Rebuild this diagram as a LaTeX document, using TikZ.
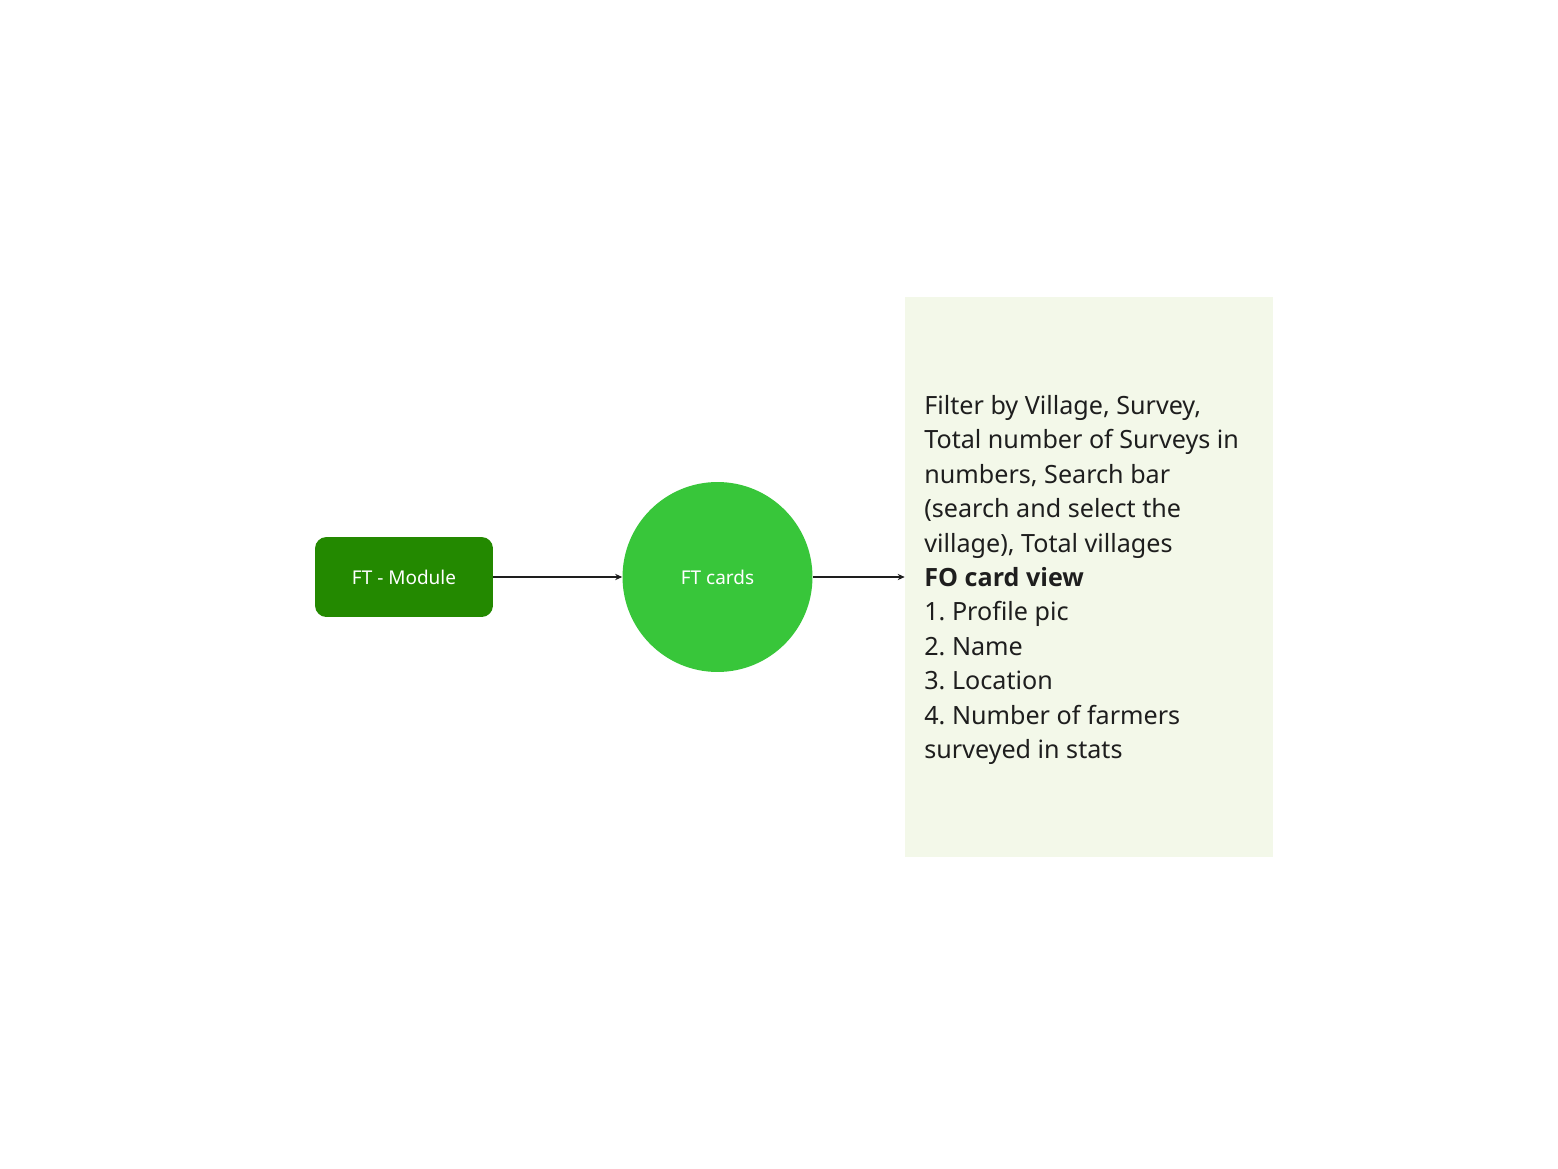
\documentclass[tikz,border=0pt]{standalone}
\usepackage{fontspec}
\setmainfont{Noto Sans}
\newfontfamily\headfont{Open Sans}
\frenchspacing
\usepackage{xcolor}
\usetikzlibrary{arrows.meta,positioning}
\definecolor{modgreen}{RGB}{35,137,0}
\definecolor{cardgreen}{RGB}{56,198,58}
\definecolor{panelbg}{RGB}{243,248,233}
\definecolor{figline}{RGB}{30,30,30}
\tikzset{
  modbox/.style  ={rectangle, rounded corners=6.5pt, fill=modgreen, text=white,
                   minimum width=3.56cm, minimum height=1.6cm, inner sep=0pt,
                   font=\fontsize{10.8pt}{13pt}\selectfont},
  cardnode/.style={circle, fill=cardgreen, text=white, minimum size=3.8cm, inner sep=0pt,
                   font=\fontsize{10.8pt}{13pt}\selectfont},
  panel/.style   ={rectangle, fill=panelbg, minimum width=7.36cm, minimum height=11.2cm, inner sep=0pt},
  paneltxt/.style={align=left, inner sep=0pt, text=figline,
                   font=\fontsize{14.3pt}{19.6pt}\selectfont},
  flow/.style    ={draw=figline, line width=0.6pt, -{Stealth[length=4pt,width=3.6pt]}},
}
\begin{document}
\begin{tikzpicture}[x=0.02cm,y=-0.02cm]
  \useasboundingbox (0,0) rectangle (1558,1169);
  \node[modbox] (module) at (404,577) {FT - Module};
  \node[cardnode] (cards) at (717.5,577) {FT cards};
  \node[panel] (view) at (1089,577) {};
  \node[paneltxt, anchor=west] (viewtxt) at (924,580)
    {Filter by Village, Survey,\\
     Total number of Surveys in\\
     numbers, Search bar\\
     (search and select the\\
     village), Total villages\\
     {\headfont\bfseries FO card view}\\
     1. Profile pic\\
     2. Name\\
     3. Location\\
     4. Number of farmers\\
     surveyed in stats};
  \draw[flow] (module) -- (cards);
  \draw[flow] (cards) -- (view);
\end{tikzpicture}
\end{document}
